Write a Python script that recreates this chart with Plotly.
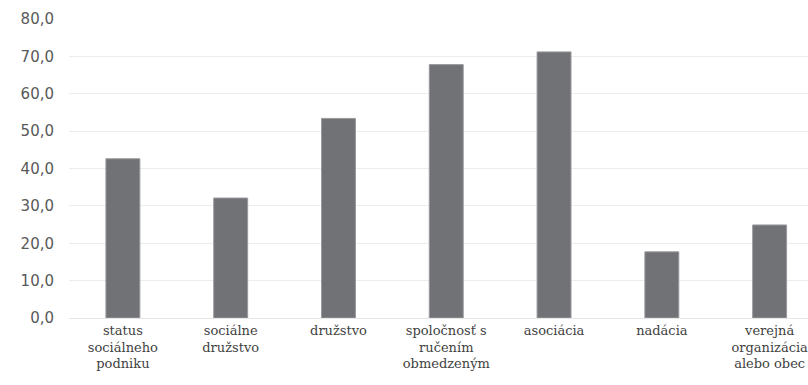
import plotly.graph_objects as go

categories = [
    "status<br>sociálneho<br>podniku",
    "sociálne<br>družstvo",
    "družstvo",
    "spoločnosť s<br>ručením<br>obmedzeným",
    "asociácia",
    "nadácia",
    "verejná<br>organizácia<br>alebo obec",
]
values = [42.6, 32.1, 53.4, 67.8, 71.2, 17.7, 24.9]
y_ticks = [0, 10, 20, 30, 40, 50, 60, 70, 80]
y_tick_labels = ["0,0", "10,0", "20,0", "30,0", "40,0", "50,0", "60,0", "70,0", "80,0"]

fig = go.Figure(
    go.Bar(
        x=list(range(len(categories))),
        y=values,
        marker=dict(color="#717276", line=dict(color="#9a9b9e", width=1)),
        width=0.315,
    )
)

fig.update_layout(
    width=808,
    height=385,
    margin=dict(l=69, r=0, t=19, b=67),
    paper_bgcolor="white",
    plot_bgcolor="white",
    showlegend=False,
    bargap=0.685,
    xaxis=dict(
        tickmode="array",
        tickvals=list(range(len(categories))),
        ticktext=categories,
        range=[-0.5, 6.356],
        showgrid=False,
        showline=True,
        linecolor="#e6e6e6",
        linewidth=1,
        ticks="",
        tickangle=0,
        ticklabeloverflow="allow",
        tickfont=dict(family="DejaVu Serif", size=13, color="#3f3f3f"),
    ),
    yaxis=dict(
        range=[0, 80],
        tickmode="array",
        tickvals=y_ticks,
        ticktext=y_tick_labels,
        showgrid=True,
        gridcolor="#ececec",
        gridwidth=1,
        zeroline=False,
        showline=False,
        ticks="",
        ticklabelstandoff=14,
        tickfont=dict(family="DejaVu Sans", size=15, color="#595959"),
    ),
)

fig.write_html("out.html")
